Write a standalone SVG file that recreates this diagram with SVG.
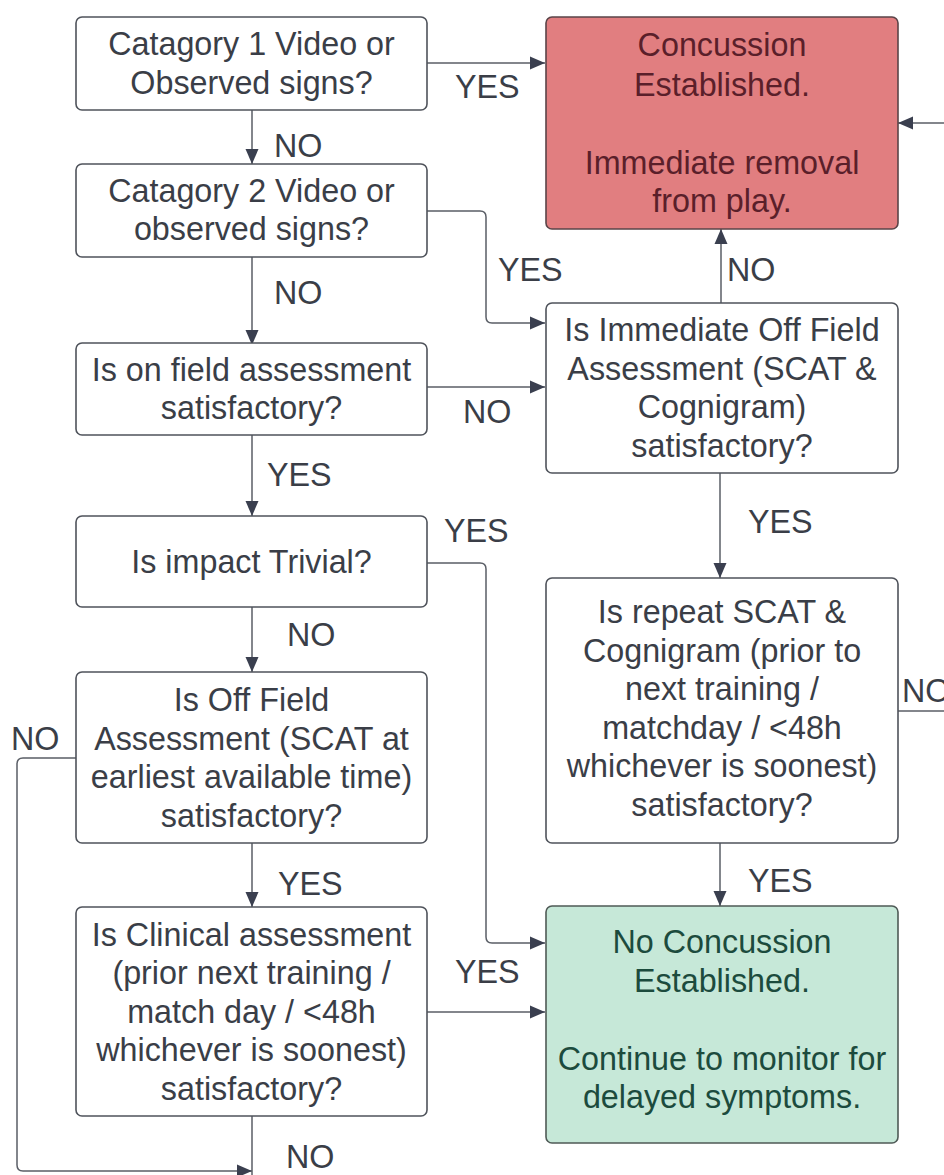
<svg xmlns="http://www.w3.org/2000/svg" width="944" height="1175" viewBox="0 0 944 1175">
<style>
.box{fill:#ffffff;stroke:#4f535b;stroke-width:1.6}
.red{fill:#e17e80;stroke:#5a4448;stroke-width:1.6}
.green{fill:#c6e8d8;stroke:#4f5a56;stroke-width:1.6}
text{font-family:"Liberation Sans",Arial,sans-serif;font-size:32.3px;fill:#3a3e47}
.c{text-anchor:middle}
.rt{fill:#5a1f2a}
.gt{fill:#1c4b3d}
.ln{fill:none;stroke:#5a5e66;stroke-width:1.5}
</style>
<defs>
<marker id="ah" markerUnits="userSpaceOnUse" markerWidth="16" markerHeight="14" refX="15" refY="7" orient="auto">
<path d="M0,0.5 L15,7 L0,13.5 Z" fill="#3a3f4f"/>
</marker>
</defs>
<rect width="944" height="1175" fill="#ffffff"/>
<g id="connectors">
<path class="ln" d="M427,63 H545" marker-end="url(#ah)"/>
<path class="ln" d="M252,110 V164" marker-end="url(#ah)"/>
<path class="ln" d="M427,211 H480 Q486,211 486,217 V317 Q486,323 492,323 H545" marker-end="url(#ah)"/>
<path class="ln" d="M721,303 V229" marker-end="url(#ah)"/>
<path class="ln" d="M252,257 V345" marker-end="url(#ah)"/>
<path class="ln" d="M427,387 H545" marker-end="url(#ah)"/>
<path class="ln" d="M252,433 V516" marker-end="url(#ah)"/>
<path class="ln" d="M427,563 H480 Q486,563 486,569 V937 Q486,943 492,943 H545" marker-end="url(#ah)"/>
<path class="ln" d="M252,607 V672" marker-end="url(#ah)"/>
<path class="ln" d="M720,473 V578" marker-end="url(#ah)"/>
<path class="ln" d="M898,711 H944"/>
<path class="ln" d="M944,123 H898" marker-end="url(#ah)"/>
<path class="ln" d="M76,758 H23 Q17,758 17,764 V1165 Q17,1171 23,1171 H252" marker-end="url(#ah)"/>
<path class="ln" d="M252,843 V907" marker-end="url(#ah)"/>
<path class="ln" d="M252,1116 V1175"/>
<path class="ln" d="M720,843 V906" marker-end="url(#ah)"/>
<path class="ln" d="M427,1012 H545" marker-end="url(#ah)"/>
</g>
<g id="labels">
<text x="455" y="98">YES</text>
<text x="274" y="157">NO</text>
<text x="498" y="281">YES</text>
<text x="727" y="281">NO</text>
<text x="274" y="304">NO</text>
<text x="463" y="423">NO</text>
<text x="267" y="486">YES</text>
<text x="444" y="542">YES</text>
<text x="287" y="646">NO</text>
<text x="748" y="533">YES</text>
<text x="902" y="702">NO</text>
<text x="11" y="750">NO</text>
<text x="278" y="895">YES</text>
<text x="748" y="892">YES</text>
<text x="455" y="983">YES</text>
<text x="286" y="1168">NO</text>
</g>
<g id="n1">
<rect class="box" x="76" y="17" width="351" height="93" rx="6"/>
<text class="c" x="251.5" y="55">Catagory 1 Video or</text>
<text class="c" x="251.5" y="93.5">Observed signs?</text>
</g>
<g id="n2">
<rect class="box" x="76" y="164" width="351" height="93" rx="6"/>
<text class="c" x="251.5" y="202">Catagory 2 Video or</text>
<text class="c" x="251.5" y="240">observed signs?</text>
</g>
<g id="n3">
<rect class="box" x="76" y="343" width="351" height="92" rx="6"/>
<text class="c" x="251.5" y="380.5">Is on field assessment</text>
<text class="c" x="251.5" y="418.5">satisfactory?</text>
</g>
<g id="n4">
<rect class="box" x="76" y="516" width="351" height="91" rx="6"/>
<text class="c" x="251.5" y="572.5">Is impact Trivial?</text>
</g>
<g id="n5">
<rect class="box" x="76" y="672" width="351" height="171" rx="6"/>
<text class="c" x="251.5" y="711">Is Off Field</text>
<text class="c" x="251.5" y="749.5">Assessment (SCAT at</text>
<text class="c" x="251.5" y="788">earliest available time)</text>
<text class="c" x="251.5" y="826.5">satisfactory?</text>
</g>
<g id="n6">
<rect class="box" x="76" y="907" width="351" height="209" rx="6"/>
<text class="c" x="251.5" y="945.5">Is Clinical assessment</text>
<text class="c" x="251.5" y="984">(prior next training /</text>
<text class="c" x="251.5" y="1022.5">match day / &lt;48h</text>
<text class="c" x="251.5" y="1061">whichever is soonest)</text>
<text class="c" x="251.5" y="1099.5">satisfactory?</text>
</g>
<g id="n7">
<rect class="red" x="546" y="17" width="352" height="212" rx="6"/>
<text class="c rt" x="722" y="56">Concussion</text>
<text class="c rt" x="722" y="96">Established.</text>
<text class="c rt" x="722" y="174">Immediate removal</text>
<text class="c rt" x="722" y="212">from play.</text>
</g>
<g id="n8">
<rect class="box" x="546" y="303" width="352" height="170" rx="6"/>
<text class="c" x="722" y="341">Is Immediate Off Field</text>
<text class="c" x="722" y="379.5">Assessment (SCAT &amp;</text>
<text class="c" x="722" y="418">Cognigram)</text>
<text class="c" x="722" y="456.5">satisfactory?</text>
</g>
<g id="n9">
<rect class="box" x="546" y="578" width="352" height="265" rx="6"/>
<text class="c" x="722" y="623">Is repeat SCAT &amp;</text>
<text class="c" x="722" y="661.5">Cognigram (prior to</text>
<text class="c" x="722" y="700">next training /</text>
<text class="c" x="722" y="738.5">matchday / &lt;48h</text>
<text class="c" x="722" y="777">whichever is soonest)</text>
<text class="c" x="722" y="815.5">satisfactory?</text>
</g>
<g id="n10">
<rect class="green" x="546" y="906" width="352" height="237" rx="6"/>
<text class="c gt" x="722" y="953">No Concussion</text>
<text class="c gt" x="722" y="991.5">Established.</text>
<text class="c gt" x="722" y="1070">Continue to monitor for</text>
<text class="c gt" x="722" y="1108">delayed symptoms.</text>
</g>
</svg>
